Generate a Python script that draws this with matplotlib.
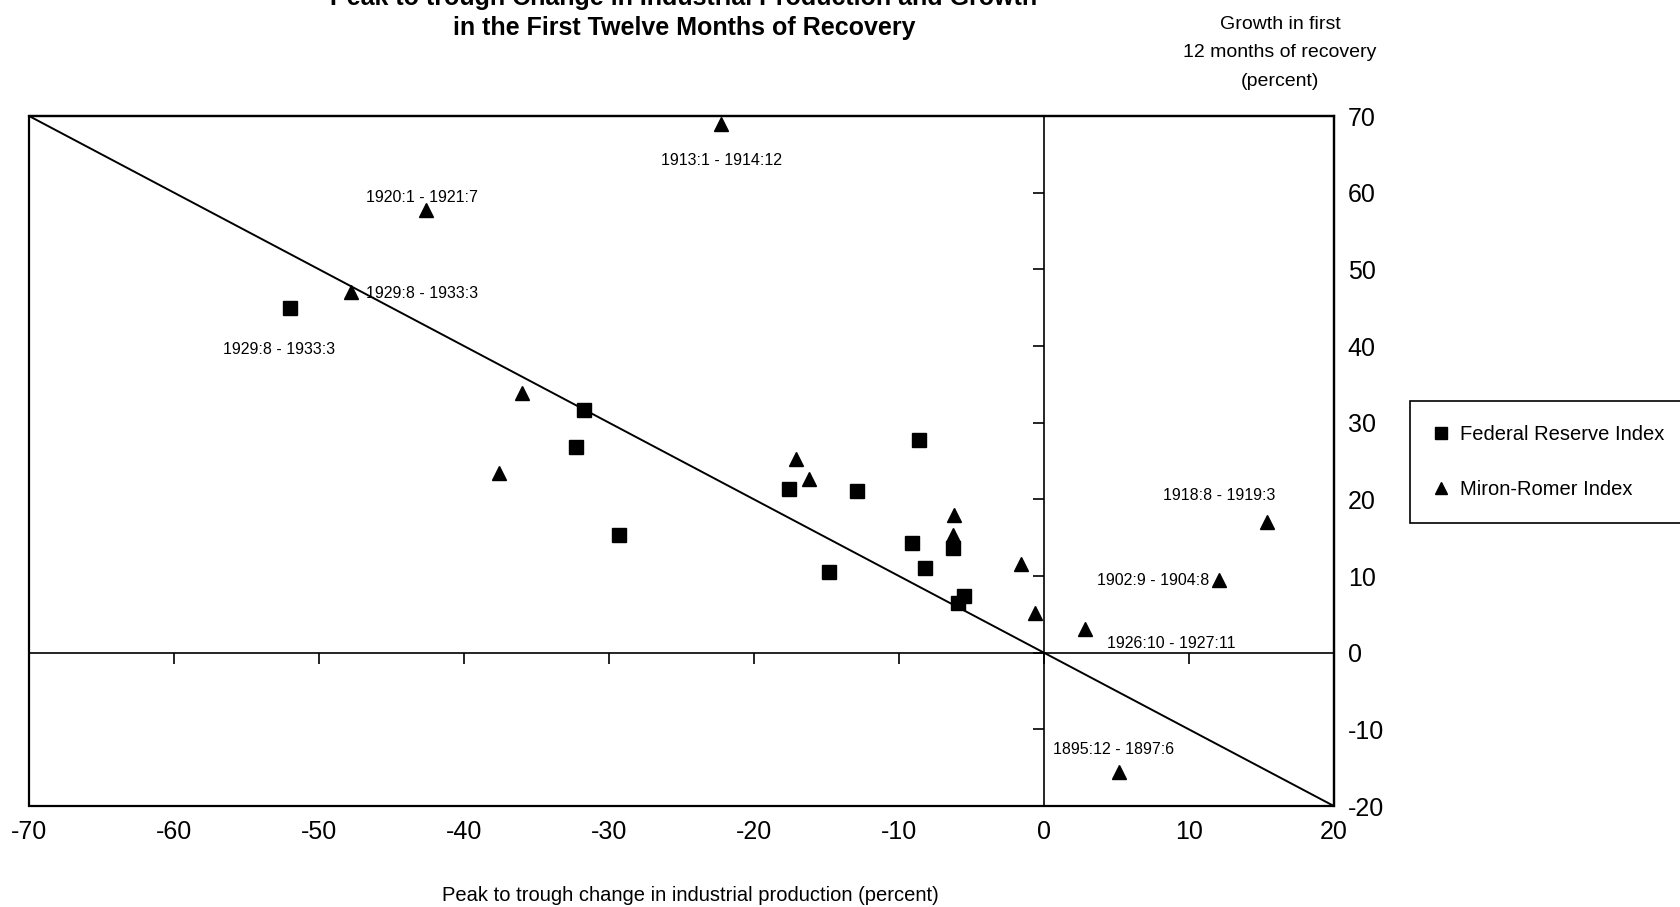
import matplotlib.pyplot as plt
from matplotlib.patches import Rectangle

plt.rcParams["font.family"] = ["Liberation Sans", "DejaVu Sans"]
plt.rcParams["axes.unicode_minus"] = False

TITLE_1 = "Peak to trough Change in Industrial Production and Growth"
TITLE_2 = "in the First Twelve Months of Recovery"
X_LABEL = "Peak to trough change in industrial production (percent)"
Y_LABEL = ["Growth in first", "12 months of recovery", "(percent)"]

XTICKS = [-70, -60, -50, -40, -30, -20, -10, 0, 10, 20]
YTICKS = [-20, -10, 0, 10, 20, 30, 40, 50, 60, 70]

# Federal Reserve Index
FED_X = [-52.0, -31.7, -32.3, -29.3, -17.6, -12.9, -14.8, -8.6, -9.1, -8.2, -6.3, -5.5, -5.9]
FED_Y = [45.0, 31.6, 26.8, 15.4, 21.3, 21.1, 10.5, 27.8, 14.3, 11.0, 13.7, 7.4, 6.5]

# Miron-Romer Index
MR_X = [-22.3, -42.6, -47.8, -36.0, -37.6, -17.1, -16.2, -6.2, -6.3, -1.55, -0.6, 2.8, 12.1, 15.4, 5.2]
MR_Y = [69.0, 57.7, 47.0, 33.9, 23.4, 25.2, 22.6, 18.0, 15.3, 11.6, 5.2, 3.1, 9.5, 17.0, -15.5]

# 45 degree reference line, y = -x
LINE_X = [-70, 20]

# (series, point index, text)
LABELS = [
    ("fed", 0, "1929:8 - 1933:3"),
    ("mr", 0, "1913:1 - 1914:12"),
    ("mr", 1, "1920:1 - 1921:7"),
    ("mr", 2, "1929:8 - 1933:3"),
    ("mr", 11, "1926:10 - 1927:11"),
    ("mr", 12, "1902:9 - 1904:8"),
    ("mr", 13, "1918:8 - 1919:3"),
    ("mr", 14, "1895:12 - 1897:6"),
]
# label placement in pixels relative to the point
LABEL_OFFSETS = [(-11, -42, "center"), (1, -37, "center"), (-4, 13, "center"),
                 (15, -1, "left"), (87, -15, "center"), (-10, -1, "right"),
                 (-48, 27, "center"), (-6, 22, "center")]


def main():
    fig = plt.figure(figsize=(16.8, 9.07), dpi=100)
    ax = fig.add_axes([0.0173, 0.1113, 0.7767, 0.7608])
    ax.set_xlim(-70, 20)
    ax.set_ylim(-20, 70)

    # inner cross axes through the origin, outer frame as a box
    ax.spines["left"].set_position(("data", 0))
    ax.spines["bottom"].set_position(("data", 0))
    for side in ["left", "bottom"]:
        ax.spines[side].set_linewidth(1.2)
    for side in ["top", "right"]:
        ax.spines[side].set_linewidth(1.6)
    ax.add_patch(Rectangle((0, 0), 1, 1, transform=ax.transAxes, fill=False,
                           linewidth=1.6, edgecolor="black", clip_on=False, zorder=3))
    ax.set_xticks(XTICKS)
    ax.set_yticks(YTICKS)
    ax.tick_params(direction="out", length=8, width=1.2,
                   labelbottom=False, labelleft=False)

    sec_x = ax.secondary_xaxis("bottom")
    sec_x.set_xticks(XTICKS)
    sec_x.tick_params(length=0, pad=10, labelsize=18)
    sec_x.spines["bottom"].set_visible(False)

    sec_y = ax.secondary_yaxis("right")
    sec_y.set_yticks(YTICKS)
    sec_y.tick_params(length=0, pad=10, labelsize=18)
    sec_y.spines["right"].set_visible(False)

    ax.plot(LINE_X, [-v for v in LINE_X], color="black", linewidth=1.4, zorder=2)

    ax.plot(FED_X, FED_Y, linestyle="", marker="s", markersize=9.5,
            color="black", label="Federal Reserve Index", zorder=4)
    ax.plot(MR_X, MR_Y, linestyle="", marker="^", markersize=10,
            color="black", label="Miron-Romer Index", zorder=4)

    series = {"fed": (FED_X, FED_Y), "mr": (MR_X, MR_Y)}
    for (name, idx, text), (dx, dy, ha) in zip(LABELS, LABEL_OFFSETS):
        xs, ys = series[name]
        ax.annotate(text, xy=(xs[idx], ys[idx]), xytext=(dx, dy),
                    textcoords="offset pixels", ha=ha, va="center",
                    fontsize=11.5, zorder=5)

    leg = ax.legend(loc="upper left", bbox_to_anchor=(0.839, 0.558),
                    bbox_transform=fig.transFigure, fontsize=14.5, frameon=True,
                    fancybox=False, edgecolor="black", framealpha=1,
                    borderpad=1.2, labelspacing=1.8, handlelength=0.7,
                    handletextpad=0.6, borderaxespad=0, markerscale=0.85)
    leg.get_frame().set_linewidth(1.2)

    fig.text(0.407, 0.994, TITLE_1, ha="center", va="baseline",
             fontsize=18, fontweight="bold")
    fig.text(0.407, 0.9614, TITLE_2, ha="center", va="baseline",
             fontsize=18, fontweight="bold")
    for line, y in zip(Y_LABEL, [0.9727, 0.9419, 0.9101]):
        fig.text(0.762, y, line, ha="center", va="center", fontsize=14)
    fig.text(0.411, 0.0132, X_LABEL, ha="center", va="center", fontsize=14.5)

    fig.savefig("out.png", dpi=100)
    plt.close(fig)


if __name__ == "__main__":
    main()
